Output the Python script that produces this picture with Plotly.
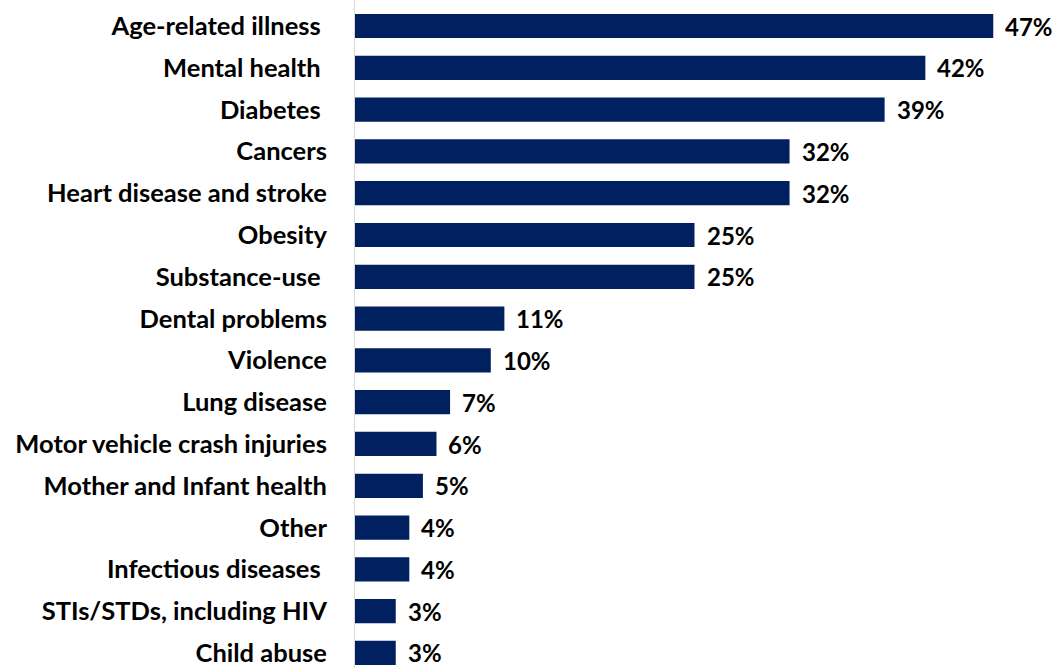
import plotly.graph_objects as go

categories = [
    "Age-related illness ",
    "Mental health ",
    "Diabetes ",
    "Cancers",
    "Heart disease and stroke",
    "Obesity",
    "Substance-use ",
    "Dental problems",
    "Violence",
    "Lung disease",
    "Motor vehicle crash injuries",
    "Mother and Infant health",
    "Other",
    "Infectious diseases ",
    "STIs/STDs, including HIV",
    "Child abuse",
]
percentages = [47, 42, 39, 32, 32, 25, 25, 11, 10, 7, 6, 5, 4, 4, 3, 3]
value_labels = [f"{v}%" for v in percentages]

BAR_COLOR = "#002060"
FONT = "Lato"

fig = go.Figure(
    go.Bar(
        x=percentages,
        y=categories,
        orientation="h",
        marker=dict(color=BAR_COLOR, line=dict(width=0)),
        width=0.58,
        hoverinfo="skip",
    )
)

for cat, val, lab in zip(categories, percentages, value_labels):
    fig.add_annotation(
        x=val, y=cat, text=f"<b>{lab}</b>", showarrow=False,
        xanchor="left", yanchor="middle", xshift=10,
        font=dict(family=FONT, size=24, color="#000000"),
    )

fig.update_layout(
    width=1055,
    height=668,
    margin=dict(l=355, r=21, t=0, b=0),
    paper_bgcolor="white",
    plot_bgcolor="white",
    showlegend=False,
    xaxis=dict(range=[0, 50], visible=False, fixedrange=True),
    yaxis=dict(
        type="category",
        range=[15.359, -0.622],
        showgrid=False,
        zeroline=False,
        showline=True,
        linecolor="#D9D9D9",
        linewidth=1,
        ticks="",
        ticklabelstandoff=22,
        tickfont=dict(family=FONT, size=25.5, color="#000000", weight="bold"),
    ),
)

fig.write_html("out.html")
